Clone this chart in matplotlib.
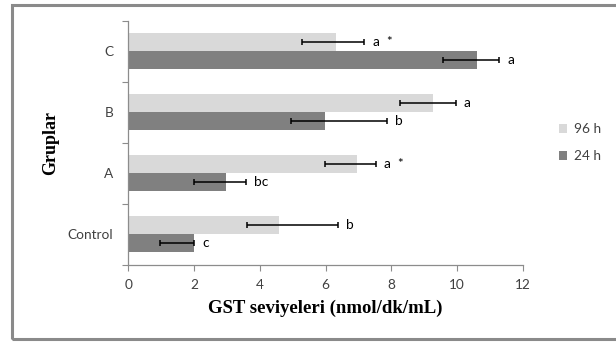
import matplotlib
matplotlib.use("Agg")
import matplotlib.pyplot as plt
import matplotlib.patches as patches
import numpy as np

# data
groups = ["Control", "A", "B", "C"]
h96 = [4.6, 6.95, 9.27, 6.32]
h24 = [2.0, 2.97, 5.97, 10.6]
h96_err_lo = [1.0, 0.98, 1.0, 1.03]
h96_err_hi = [1.77, 0.59, 0.69, 0.86]
h24_err_lo = [1.04, 0.97, 1.02, 1.03]
h24_err_hi = [0.0, 0.6, 1.89, 0.67]
h96_marks = ["b", "a  *", "a", "a  *"]
h24_marks = ["c", "bc", "b", "a"]
series_names = ["96 h", "24 h"]
xticks = [0, 2, 4, 6, 8, 10, 12]

c_light = "#d9d9d9"
c_dark = "#808080"
axis_col = "#8c8c8c"
txt_col = "#404040"
sans = ["Lato", "DejaVu Sans"]
serif = ["Liberation Serif", "DejaVu Serif"]
fs = 9.8

fig = plt.figure(figsize=(6.16, 3.43), dpi=100)
fig.patches.append(patches.Rectangle((11.5 / 616, 4 / 343), 1.0, 1 - 8.5 / 343,
                                     transform=fig.transFigure, fill=False,
                                     edgecolor="#8a8a8a", linewidth=2.2))
ax = fig.add_axes([128.3 / 616, (343 - 265) / 343, (522.7 - 128.3) / 616, (265 - 20.7) / 343])

y = np.arange(len(groups))
bh = 0.295
ekw = dict(ecolor="black", elinewidth=1.1, capsize=2.5, capthick=1.1)
ax.barh(y + bh / 2, h96, height=bh, color=c_light, label=series_names[0],
        xerr=[h96_err_lo, h96_err_hi], error_kw=ekw)
ax.barh(y - bh / 2, h24, height=bh, color=c_dark, label=series_names[1],
        xerr=[h24_err_lo, h24_err_hi], error_kw=ekw)

for i in range(len(groups)):
    ax.annotate(h96_marks[i], (h96[i] + h96_err_hi[i], y[i] + bh / 2), xytext=(6, 0),
                textcoords="offset points", va="center", ha="left",
                fontsize=fs, family=sans, color="black")
    ax.annotate(h24_marks[i], (h24[i] + h24_err_hi[i], y[i] - bh / 2), xytext=(6, 0),
                textcoords="offset points", va="center", ha="left",
                fontsize=fs, family=sans, color="black")

ax.set_xlim(0, 12)
ax.set_ylim(-0.5, len(groups) - 0.5)
ax.set_xticks(xticks)
ax.set_xticklabels([str(t) for t in xticks], fontsize=fs, family=sans, color=txt_col)
ax.set_yticks(y)
ax.set_yticklabels(groups, fontsize=fs, family=sans, color=txt_col)
ax.set_yticks(np.arange(-0.5, len(groups)), minor=True)
ax.tick_params(axis="y", which="major", length=0, pad=11)
ax.tick_params(axis="y", which="minor", length=4, color=axis_col, width=0.8)
ax.tick_params(axis="x", length=4, color=axis_col, width=0.8, pad=6)

for s in ["top", "right"]:
    ax.spines[s].set_visible(False)
for s in ["left", "bottom"]:
    ax.spines[s].set_color(axis_col)
    ax.spines[s].set_linewidth(0.9)

ax.set_xlabel("GST seviyeleri (nmol/dk/mL)", family=serif, fontweight="bold",
              fontsize=13.5, labelpad=6)
ax.set_ylabel("Gruplar", family=serif, fontweight="bold", fontsize=13, labelpad=6)

leg = ax.legend(loc="center left", bbox_to_anchor=(1.06, 0.5), frameon=False,
                prop={"family": sans, "size": fs}, handlelength=0.6, handleheight=0.6,
                handletextpad=0.5, labelspacing=1.1)
for t in leg.get_texts():
    t.set_color(txt_col)

fig.savefig("out.png", dpi=100)
